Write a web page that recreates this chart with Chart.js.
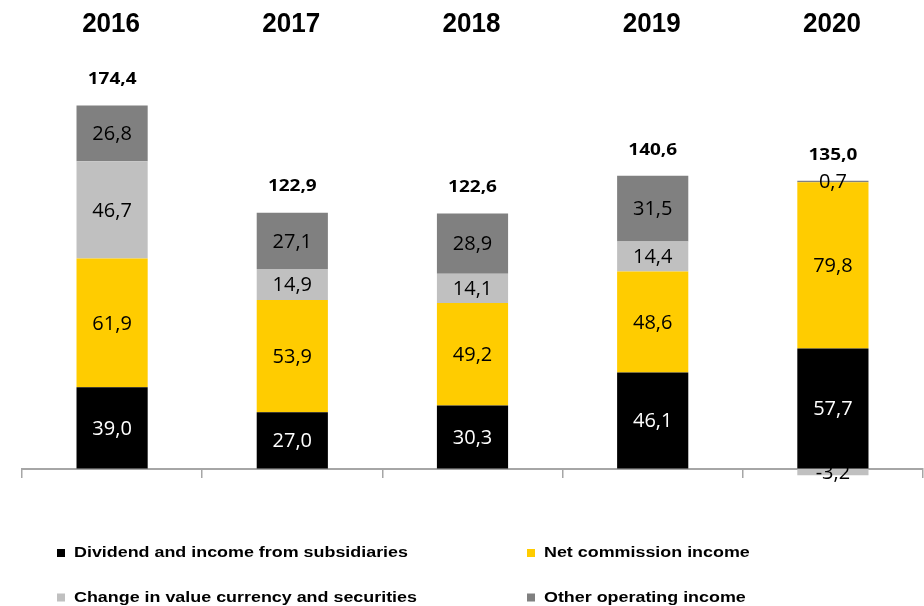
<!DOCTYPE html>
<html>
<head>
<meta charset="utf-8">
<script src="https://cdn.jsdelivr.net/npm/chart.js@4.4.1/dist/chart.umd.min.js"></script>
<style>
  html, body { margin: 0; padding: 0; background: #ffffff; }
  #wrap { width: 924px; height: 606px; }
</style>
</head>
<body>
<div id="wrap"><canvas id="chart" width="924" height="606"></canvas></div>
<script>
// Operating income by component, 2016–2020
const years = ['2016', '2017', '2018', '2019', '2020'];
const dividendIncome = [39.0, 27.0, 30.3, 46.1, 57.7];
const netCommission = [61.9, 53.9, 49.2, 48.6, 79.8];
const valueChange = [46.7, 14.9, 14.1, 14.4, -3.2];
const otherIncome = [26.8, 27.1, 28.9, 31.5, 0.7];
const totals = [174.4, 122.9, 122.6, 140.6, 135.0];

const seriesNames = [
  'Dividend and income from subsidiaries',
  'Net commission income',
  'Change in value currency and securities',
  'Other operating income'
];
const seriesColors = ['#000000', '#FFCC00', '#C0C0C0', '#808080'];
const labelColors = ['#FFFFFF', '#000000', '#000000', '#000000'];
const seriesValues = [dividendIncome, netCommission, valueChange, otherIncome];

const fmt = v => v.toFixed(1).replace('.', ',');

// text drawn with a slight horizontal stretch factor
function drawText(ctx, text, x, y, font, sx, align) {
  ctx.save();
  ctx.font = font;
  ctx.textAlign = align || 'center';
  ctx.textBaseline = 'middle';
  ctx.translate(x, y);
  ctx.scale(sx, 1);
  ctx.fillText(text, 0, 0);
  ctx.restore();
}

const labelPlugin = {
  id: 'labels',
  afterDatasetsDraw(chart) {
    const ctx = chart.ctx;
    // values inside each segment
    chart.data.datasets.forEach((ds, di) => {
      const meta = chart.getDatasetMeta(di);
      meta.data.forEach((bar, i) => {
        const v = ds.data[i];
        ctx.fillStyle = Math.abs(v) < 2 || v < 0 ? '#000000' : labelColors[di];
        drawText(ctx, fmt(v), bar.x, (bar.y + bar.base) / 2 + 1,
          '20px "Open Sans", sans-serif', 1.0);
      });
    });
    // totals above each stack and year headings along the top
    const xs = chart.scales.x;
    const ys = chart.scales.y;
    ctx.fillStyle = '#000000';
    years.forEach((yr, i) => {
      let top = 0;
      seriesValues.forEach(s => { if (s[i] > 0) top += s[i]; });
      const x = xs.getPixelForValue(i);
      drawText(ctx, fmt(totals[i]), x, ys.getPixelForValue(top) - 26,
        'bold 16.5px "Open Sans", sans-serif', 1.15);
      drawText(ctx, yr, x - 1, 24,
        'bold 28px "Liberation Sans", Arial, sans-serif', 0.93);
    });
  },
  afterDraw(chart) {
    // two-column legend below the plot
    const ctx = chart.ctx;
    const cols = [57, 527];
    const rows = [553, 597.5];
    seriesNames.forEach((name, k) => {
      const x = cols[k % 2];
      const y = rows[Math.floor(k / 2)];
      ctx.fillStyle = seriesColors[k];
      ctx.fillRect(x, y - 4, 8, 8);
      ctx.fillStyle = '#000000';
      drawText(ctx, name, x + 17, y,
        'bold 15.5px "Liberation Sans", Arial, sans-serif', 1.154, 'left');
    });
  }
};

new Chart(document.getElementById('chart'), {
  type: 'bar',
  data: {
    labels: years,
    datasets: seriesNames.map((name, k) => ({
      label: name,
      data: seriesValues[k],
      backgroundColor: seriesColors[k],
      borderWidth: 0,
      barPercentage: 1,
      categoryPercentage: 0.395
    }))
  },
  options: {
    responsive: false,
    animation: false,
    layout: { padding: { left: 22, right: 1, top: 73, bottom: 125 } },
    plugins: { legend: { display: false }, tooltip: { enabled: false } },
    scales: {
      x: {
        stacked: true,
        position: { y: 0 },
        ticks: { display: false },
        grid: {
          offset: true,
          drawOnChartArea: false,
          drawTicks: true,
          tickLength: 8,
          color: '#A6A6A6',
          lineWidth: 1.5
        },
        border: { display: true, color: '#A6A6A6', width: 2 }
      },
      y: {
        stacked: true,
        display: false,
        min: -6,
        max: 190
      }
    }
  },
  plugins: [labelPlugin]
});
</script>
</body>
</html>
